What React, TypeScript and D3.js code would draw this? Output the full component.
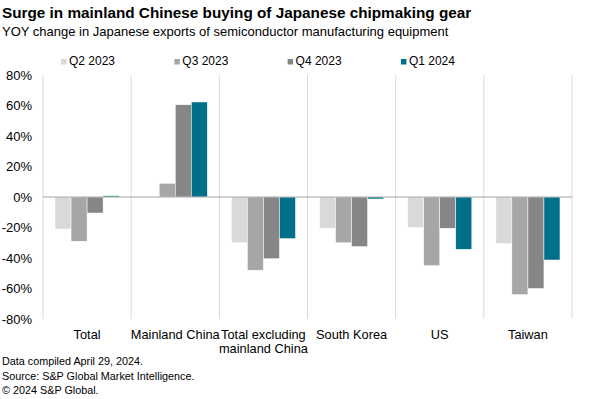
import React, { useEffect, useRef } from 'react';
import * as d3 from 'd3';

// Categories (second line of label separated by \n)
const categories = ['Total', 'Mainland China', 'Total excluding\nmainland China', 'South Korea', 'US', 'Taiwan'];
const seriesNames = ['Q2 2023', 'Q3 2023', 'Q4 2023', 'Q1 2024'];
const seriesColors = ['#d9d9d9', '#a6a6a6', '#868686', '#00708a'];

// YOY change, %
const q2_2023 = [-21, 0, -30, -20.5, -20, -30.5];
const q3_2023 = [-29, 9, -48, -30, -45, -64];
const q4_2023 = [-10.5, 60.5, -40.5, -32.5, -20.5, -60];
const q1_2024 = [0.8, 62.3, -27.3, -1.3, -34.3, -41.3];
const seriesValues = [q2_2023, q3_2023, q4_2023, q1_2024];

const yTicks = [80, 60, 40, 20, 0, -20, -40, -60, -80];

const App: React.FC = () => {
  const svgRef = useRef<SVGSVGElement>(null);

  useEffect(() => {
    if (!svgRef.current) return;
    const svg = d3.select(svgRef.current);
    svg.selectAll('*').remove();

    const font = 'Liberation Sans, Arial, sans-serif';
    const left = 43, right = 572, top = 75, bottom = 319;

    const x = d3.scaleBand().domain(categories).range([left, right]).paddingInner(0).paddingOuter(0);
    // 4 bars of ~16px with ~12px on each side
    const inner = d3.scaleBand().domain(seriesNames).range([0, x.bandwidth()]).paddingOuter(0.75);
    const y = d3.scaleLinear().domain([-80, 80]).range([bottom, top]);

    // title & subtitle
    svg.append('text').attr('x', 2).attr('y', 18).text('Surge in mainland Chinese buying of Japanese chipmaking gear')
      .attr('font-family', font).attr('font-size', 15.3).attr('font-weight', 'bold').attr('fill', '#000');
    svg.append('text').attr('x', 2).attr('y', 36).text('YOY change in Japanese exports of semiconductor manufacturing equipment')
      .attr('font-family', font).attr('font-size', 13).attr('fill', '#000');

    // legend
    const legend = svg.append('g');
    seriesNames.forEach((s, i) => {
      const lx = 61 + i * 113.3;
      legend.append('rect').attr('x', lx).attr('y', 59).attr('width', 5.5).attr('height', 5.5).attr('fill', seriesColors[i]);
      legend.append('text').attr('x', lx + 8).attr('y', 64.5).text(s)
        .attr('font-family', font).attr('font-size', 12).attr('fill', '#000');
    });

    // vertical gridlines at category boundaries
    const bounds = categories.map(c => x(c)!).concat([right]);
    svg.append('g').selectAll('line').data(bounds).enter().append('line')
      .attr('x1', d => d).attr('x2', d => d).attr('y1', top).attr('y2', bottom)
      .attr('stroke', '#d9d9d9').attr('stroke-width', 1);

    // y tick labels
    svg.append('g').selectAll('text').data(yTicks).enter().append('text')
      .attr('x', 32).attr('y', d => y(d) + 4.5).attr('text-anchor', 'end')
      .text(d => `${d}%`).attr('font-family', font).attr('font-size', 13).attr('fill', '#000');

    // bars
    seriesValues.forEach((vals, si) => {
      svg.append('g').selectAll('rect').data(vals).enter().append('rect')
        .attr('x', (_, i) => x(categories[i])! + inner(seriesNames[si])!)
        .attr('width', inner.bandwidth())
        .attr('y', d => y(Math.max(0, d)))
        .attr('height', d => Math.abs(y(d) - y(0)))
        .attr('fill', seriesColors[si])
        .attr('stroke', '#fff').attr('stroke-width', 0.5);
    });

    // zero line
    svg.append('line').attr('x1', left).attr('x2', right).attr('y1', y(0)).attr('y2', y(0))
      .attr('stroke', '#a6a6a6').attr('stroke-width', 1);

    // category labels
    const cat = svg.append('g');
    categories.forEach(c => {
      const cx = x(c)! + x.bandwidth() / 2;
      c.split('\n').forEach((line, li) => {
        cat.append('text').attr('x', cx).attr('y', 338.5 + li * 14.5).attr('text-anchor', 'middle')
          .text(line).attr('font-family', font).attr('font-size', 12.8).attr('fill', '#000');
      });
    });

    // footer
    const notes = ['Data compiled April 29, 2024.', 'Source: S&P Global Market Intelligence.', '© 2024 S&P Global.'];
    notes.forEach((n, i) => {
      svg.append('text').attr('x', 2).attr('y', 365 + i * 14.5).text(n)
        .attr('font-family', font).attr('font-size', 10.8).attr('fill', '#000');
    });
  }, []);

  return (
    <svg ref={svgRef} width={600} height={399}
      style={{ position: 'absolute', left: 0, top: 0, background: '#fff' }} />
  );
};

export default App;
